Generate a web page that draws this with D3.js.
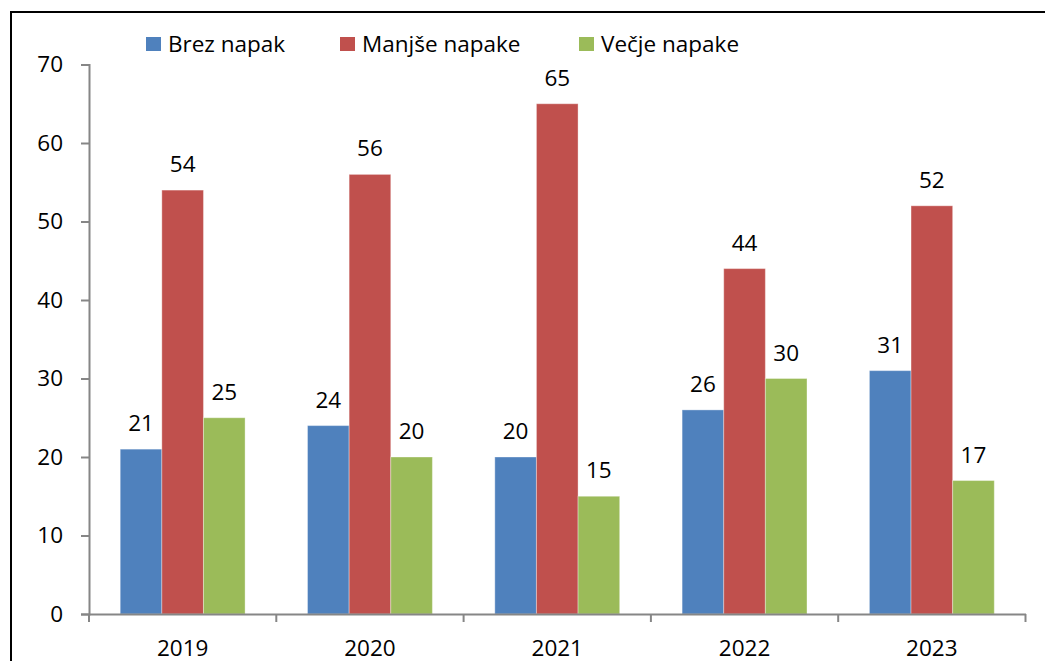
<!DOCTYPE html>
<html>
<head>
<meta charset="utf-8">
<script src="https://cdn.jsdelivr.net/npm/d3@7"></script>
<style>
  body { margin: 0; background: #fff; }
  svg { display: block; font-family: "Open Sans", sans-serif; }
</style>
</head>
<body>
<div id="chart"></div>
<script>
const years = ["2019", "2020", "2021", "2022", "2023"];
const seriesNames = ["Brez napak", "Manjše napake", "Večje napake"];
const brezNapak = [21, 24, 20, 26, 31];
const manjseNapake = [54, 56, 65, 44, 52];
const vecjeNapake = [25, 20, 15, 30, 17];
const yTicks = [0, 10, 20, 30, 40, 50, 60, 70];
const colors = ["#4F81BD", "#C0504D", "#9BBB59"];

const allSeries = [brezNapak, manjseNapake, vecjeNapake];
const width = 1045, height = 661;
const fontSize = 22.5;
const svg = d3.select("#chart").append("svg")
  .attr("width", width)
  .attr("height", height);

// outer frame (top + left visible)
svg.append("path")
  .attr("d", `M11,${height} L11,12 L${width},12`)
  .attr("fill", "none")
  .attr("stroke", "#000")
  .attr("stroke-width", 2);

const x = d3.scaleBand().domain(years).range([89, 1025.5]);
const x1 = d3.scaleBand().domain(d3.range(3)).range([0, x.bandwidth()]).paddingOuter(0.75);
const y = d3.scaleLinear().domain([0, 70]).range([614, 64.5]);

// bars
const groups = svg.selectAll("g.year")
  .data(years)
  .join("g")
  .attr("transform", d => `translate(${x(d)},0)`);

groups.selectAll("rect")
  .data((d, i) => allSeries.map((s, k) => ({ k, v: s[i] })))
  .join("rect")
  .attr("x", d => x1(d.k))
  .attr("y", d => y(d.v))
  .attr("width", x1.bandwidth())
  .attr("height", d => y(0) - y(d.v))
  .attr("fill", d => colors[d.k])
  .attr("stroke", "rgba(255,255,255,0.35)")
  .attr("stroke-width", 1);

groups.selectAll("text")
  .data((d, i) => allSeries.map((s, k) => ({ k, v: s[i] })))
  .join("text")
  .attr("x", d => x1(d.k) + x1.bandwidth() / 2)
  .attr("y", d => y(d.v) - 18)
  .attr("text-anchor", "middle")
  .attr("font-size", fontSize)
  .attr("fill", "#000")
  .text(d => d.v);

// y axis
const yAxis = svg.append("g")
  .attr("transform", "translate(89,0)")
  .call(d3.axisLeft(y).tickValues(yTicks).tickSize(8).tickPadding(18));
yAxis.select(".domain").attr("stroke", "#868686").attr("stroke-width", 2);
yAxis.selectAll(".tick line").attr("stroke", "#868686").attr("stroke-width", 2);
yAxis.selectAll(".tick text").attr("font-size", fontSize).attr("font-family", "Open Sans").attr("fill", "#000");

// x axis
const xAxis = svg.append("g")
  .attr("transform", "translate(0,614)")
  .call(d3.axisBottom(x).tickSize(0).tickPadding(26));
xAxis.select(".domain").attr("stroke", "#868686").attr("stroke-width", 2);
xAxis.selectAll(".tick text").attr("font-size", fontSize).attr("font-family", "Open Sans").attr("fill", "#000");
xAxis.selectAll("line.sep")
  .data(years.map(d => x(d)).concat([x.range()[1]]))
  .join("line")
  .attr("class", "sep")
  .attr("x1", d => d).attr("x2", d => d)
  .attr("y1", 0).attr("y2", 8)
  .attr("stroke", "#868686")
  .attr("stroke-width", 2);

// legend
const legendX = [146, 340, 579];
const legend = svg.selectAll("g.legend")
  .data(seriesNames)
  .join("g")
  .attr("transform", (d, i) => `translate(${legendX[i]},37)`);
legend.append("rect")
  .attr("width", 15).attr("height", 14)
  .attr("fill", (d, i) => colors[i]);
legend.append("text")
  .attr("x", 22).attr("y", 15)
  .attr("font-size", fontSize)
  .attr("fill", "#000")
  .text(d => d);
</script>
</body>
</html>
